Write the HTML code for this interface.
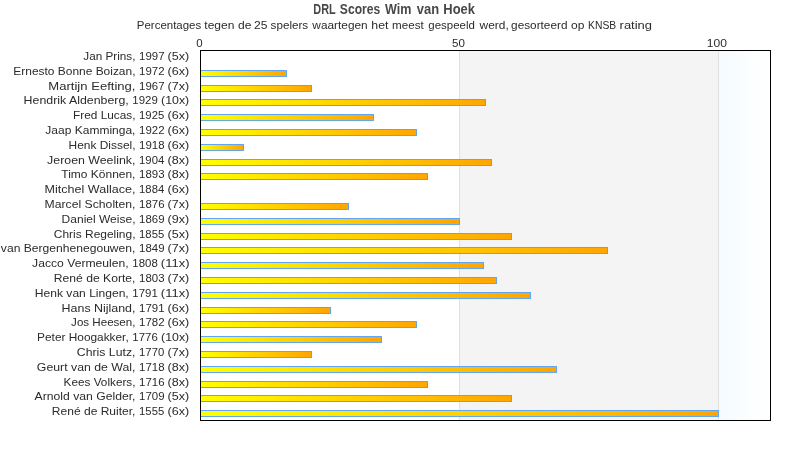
<!DOCTYPE html>
<html lang="nl"><head><meta charset="utf-8"><title>DRL Scores Wim van Hoek</title>
<style>
html,body{margin:0;padding:0;background:#fff;}
body{width:790px;height:450px;overflow:hidden;}
svg{display:block;font-family:"Liberation Sans",sans-serif;}
</style></head><body>
<svg width="790" height="450" viewBox="0 0 790 450">
<defs>
<linearGradient id="bar" x1="0" y1="0" x2="1" y2="0"><stop offset="0" stop-color="#ffff00"/><stop offset="1" stop-color="#ffa500"/></linearGradient>
<linearGradient id="band" x1="0" y1="0" x2="1" y2="0"><stop offset="0" stop-color="#f5fafe"/><stop offset="1" stop-color="#ffffff"/></linearGradient>
</defs>
<rect x="0" y="0" width="790" height="450" fill="#ffffff"/>
<g shape-rendering="crispEdges">
<rect x="459" y="51" width="259" height="369" fill="#f4f4f4"/>
<rect x="718" y="51" width="52" height="369" fill="url(#band)"/>
<rect x="459" y="51" width="1" height="369" fill="#e0e0e0"/>
<rect x="718" y="51" width="1" height="369" fill="#e0e0e0"/>
<rect x="200.5" y="70.5" width="86" height="6" fill="url(#bar)" stroke="#60a6f5" stroke-width="1"/>
<rect x="200.5" y="85.5" width="111" height="6" fill="url(#bar)" stroke="#60a6f5" stroke-width="1"/>
<rect x="200.5" y="99.5" width="285" height="6" fill="url(#bar)" stroke="#60a6f5" stroke-width="1"/>
<rect x="200.5" y="114.5" width="173" height="6" fill="url(#bar)" stroke="#60a6f5" stroke-width="1"/>
<rect x="200.5" y="129.5" width="216" height="6" fill="url(#bar)" stroke="#60a6f5" stroke-width="1"/>
<rect x="200.5" y="144.5" width="43" height="6" fill="url(#bar)" stroke="#60a6f5" stroke-width="1"/>
<rect x="200.5" y="159.5" width="291" height="6" fill="url(#bar)" stroke="#60a6f5" stroke-width="1"/>
<rect x="200.5" y="173.5" width="227" height="6" fill="url(#bar)" stroke="#60a6f5" stroke-width="1"/>
<rect x="200.5" y="203.5" width="148" height="6" fill="url(#bar)" stroke="#60a6f5" stroke-width="1"/>
<rect x="200.5" y="218.5" width="259" height="6" fill="url(#bar)" stroke="#60a6f5" stroke-width="1"/>
<rect x="200.5" y="233.5" width="311" height="6" fill="url(#bar)" stroke="#60a6f5" stroke-width="1"/>
<rect x="200.5" y="247.5" width="407" height="6" fill="url(#bar)" stroke="#60a6f5" stroke-width="1"/>
<rect x="200.5" y="262.5" width="283" height="6" fill="url(#bar)" stroke="#60a6f5" stroke-width="1"/>
<rect x="200.5" y="277.5" width="296" height="6" fill="url(#bar)" stroke="#60a6f5" stroke-width="1"/>
<rect x="200.5" y="292.5" width="330" height="6" fill="url(#bar)" stroke="#60a6f5" stroke-width="1"/>
<rect x="200.5" y="307.5" width="130" height="6" fill="url(#bar)" stroke="#60a6f5" stroke-width="1"/>
<rect x="200.5" y="321.5" width="216" height="6" fill="url(#bar)" stroke="#60a6f5" stroke-width="1"/>
<rect x="200.5" y="336.5" width="181" height="6" fill="url(#bar)" stroke="#60a6f5" stroke-width="1"/>
<rect x="200.5" y="351.5" width="111" height="6" fill="url(#bar)" stroke="#60a6f5" stroke-width="1"/>
<rect x="200.5" y="366.5" width="356" height="6" fill="url(#bar)" stroke="#60a6f5" stroke-width="1"/>
<rect x="200.5" y="381.5" width="227" height="6" fill="url(#bar)" stroke="#60a6f5" stroke-width="1"/>
<rect x="200.5" y="395.5" width="311" height="6" fill="url(#bar)" stroke="#60a6f5" stroke-width="1"/>
<rect x="200.5" y="410.5" width="518" height="6" fill="url(#bar)" stroke="#60a6f5" stroke-width="1"/>
<rect x="200.5" y="50.5" width="570" height="370" fill="none" stroke="#000000" stroke-width="1"/>
</g>
<g font-size="14.6px" font-weight="bold" fill="#484848">
<text x="313.35" y="13.7" textLength="22.36" lengthAdjust="spacingAndGlyphs">DRL</text>
<text x="339.85" y="13.7" textLength="40.36" lengthAdjust="spacingAndGlyphs">Scores</text>
<text x="385.10" y="13.7" textLength="26.36" lengthAdjust="spacingAndGlyphs">Wim</text>
<text x="416.85" y="13.7" textLength="22.36" lengthAdjust="spacingAndGlyphs">van</text>
<text x="443.35" y="13.7" textLength="31.62" lengthAdjust="spacingAndGlyphs">Hoek</text>
</g>
<g font-size="10.9px" fill="#2b2b2b">
<text x="136.85" y="28.7" textLength="64.37" lengthAdjust="spacingAndGlyphs">Percentages</text>
<text x="204.35" y="28.7" textLength="30.11" lengthAdjust="spacingAndGlyphs">tegen</text>
<text x="238.10" y="28.7" textLength="13.40" lengthAdjust="spacingAndGlyphs">de</text>
<text x="254.10" y="28.7" textLength="13.39" lengthAdjust="spacingAndGlyphs">25</text>
<text x="270.60" y="28.7" textLength="37.61" lengthAdjust="spacingAndGlyphs">spelers</text>
<text x="312.35" y="28.7" textLength="55.35" lengthAdjust="spacingAndGlyphs">waartegen</text>
<text x="371.35" y="28.7" textLength="17.11" lengthAdjust="spacingAndGlyphs">het</text>
<text x="392.10" y="28.7" textLength="31.61" lengthAdjust="spacingAndGlyphs">meest</text>
<text x="428.35" y="28.7" textLength="46.61" lengthAdjust="spacingAndGlyphs">gespeeld</text>
<text x="479.60" y="28.7" textLength="29.11" lengthAdjust="spacingAndGlyphs">werd,</text>
<text x="511.10" y="28.7" textLength="56.36" lengthAdjust="spacingAndGlyphs">gesorteerd</text>
<text x="571.10" y="28.7" textLength="13.38" lengthAdjust="spacingAndGlyphs">op</text>
<text x="588.10" y="28.7" textLength="28.13" lengthAdjust="spacingAndGlyphs">KNSB</text>
<text x="619.60" y="28.7" textLength="32.41" lengthAdjust="spacingAndGlyphs">rating</text>
</g>
<g font-size="10.9px" fill="#2b2b2b">
<text x="196.35" y="47.0" textLength="6.37" lengthAdjust="spacingAndGlyphs">0</text>
<text x="452.10" y="47.0" textLength="12.89" lengthAdjust="spacingAndGlyphs">50</text>
<text x="706.85" y="47.0" textLength="20.16" lengthAdjust="spacingAndGlyphs">100</text>
</g>
<g font-size="10.9px" fill="#2b2b2b">
<text x="83.35" y="60.0" textLength="52.12" lengthAdjust="spacingAndGlyphs">Jan Prins,</text> <text x="139.10" y="60.0" textLength="25.40" lengthAdjust="spacingAndGlyphs">1997</text> <text x="167.60" y="60.0" textLength="21.67" lengthAdjust="spacingAndGlyphs">(5x)</text>
<text x="13.35" y="74.8" textLength="122.13" lengthAdjust="spacingAndGlyphs">Ernesto Bonne Boizan,</text> <text x="139.10" y="74.8" textLength="25.40" lengthAdjust="spacingAndGlyphs">1972</text> <text x="167.60" y="74.8" textLength="21.67" lengthAdjust="spacingAndGlyphs">(6x)</text>
<text x="48.35" y="89.6" textLength="87.14" lengthAdjust="spacingAndGlyphs">Martijn Eefting,</text> <text x="139.10" y="89.6" textLength="25.40" lengthAdjust="spacingAndGlyphs">1967</text> <text x="167.60" y="89.6" textLength="21.67" lengthAdjust="spacingAndGlyphs">(7x)</text>
<text x="23.60" y="104.4" textLength="105.13" lengthAdjust="spacingAndGlyphs">Hendrik Aldenberg,</text> <text x="132.35" y="104.4" textLength="25.39" lengthAdjust="spacingAndGlyphs">1929</text> <text x="161.10" y="104.4" textLength="28.14" lengthAdjust="spacingAndGlyphs">(10x)</text>
<text x="73.10" y="119.2" textLength="62.40" lengthAdjust="spacingAndGlyphs">Fred Lucas,</text> <text x="139.10" y="119.2" textLength="25.13" lengthAdjust="spacingAndGlyphs">1925</text> <text x="167.60" y="119.2" textLength="21.67" lengthAdjust="spacingAndGlyphs">(6x)</text>
<text x="45.35" y="134.0" textLength="90.11" lengthAdjust="spacingAndGlyphs">Jaap Kamminga,</text> <text x="139.10" y="134.0" textLength="25.40" lengthAdjust="spacingAndGlyphs">1922</text> <text x="167.60" y="134.0" textLength="21.67" lengthAdjust="spacingAndGlyphs">(6x)</text>
<text x="68.60" y="148.8" textLength="66.89" lengthAdjust="spacingAndGlyphs">Henk Dissel,</text> <text x="139.10" y="148.8" textLength="25.39" lengthAdjust="spacingAndGlyphs">1918</text> <text x="167.60" y="148.8" textLength="21.67" lengthAdjust="spacingAndGlyphs">(6x)</text>
<text x="47.10" y="163.6" textLength="88.36" lengthAdjust="spacingAndGlyphs">Jeroen Weelink,</text> <text x="139.10" y="163.6" textLength="25.13" lengthAdjust="spacingAndGlyphs">1904</text> <text x="167.60" y="163.6" textLength="21.67" lengthAdjust="spacingAndGlyphs">(8x)</text>
<text x="61.35" y="178.4" textLength="74.11" lengthAdjust="spacingAndGlyphs">Timo Können,</text> <text x="139.10" y="178.4" textLength="25.39" lengthAdjust="spacingAndGlyphs">1893</text> <text x="167.60" y="178.4" textLength="21.67" lengthAdjust="spacingAndGlyphs">(8x)</text>
<text x="44.60" y="193.2" textLength="90.89" lengthAdjust="spacingAndGlyphs">Mitchel Wallace,</text> <text x="139.10" y="193.2" textLength="25.13" lengthAdjust="spacingAndGlyphs">1884</text> <text x="167.60" y="193.2" textLength="21.67" lengthAdjust="spacingAndGlyphs">(6x)</text>
<text x="44.60" y="208.0" textLength="90.89" lengthAdjust="spacingAndGlyphs">Marcel Scholten,</text> <text x="139.10" y="208.0" textLength="25.39" lengthAdjust="spacingAndGlyphs">1876</text> <text x="167.60" y="208.0" textLength="21.67" lengthAdjust="spacingAndGlyphs">(7x)</text>
<text x="61.60" y="222.8" textLength="73.89" lengthAdjust="spacingAndGlyphs">Daniel Weise,</text> <text x="139.10" y="222.8" textLength="25.39" lengthAdjust="spacingAndGlyphs">1869</text> <text x="167.60" y="222.8" textLength="21.67" lengthAdjust="spacingAndGlyphs">(9x)</text>
<text x="53.85" y="237.6" textLength="81.62" lengthAdjust="spacingAndGlyphs">Chris Regeling,</text> <text x="139.10" y="237.6" textLength="25.13" lengthAdjust="spacingAndGlyphs">1855</text> <text x="167.60" y="237.6" textLength="21.67" lengthAdjust="spacingAndGlyphs">(5x)</text>
<text x="0.85" y="252.4" textLength="134.60" lengthAdjust="spacingAndGlyphs">van Bergenhenegouwen,</text> <text x="139.10" y="252.4" textLength="25.39" lengthAdjust="spacingAndGlyphs">1849</text> <text x="167.60" y="252.4" textLength="21.67" lengthAdjust="spacingAndGlyphs">(7x)</text>
<text x="32.10" y="267.2" textLength="96.61" lengthAdjust="spacingAndGlyphs">Jacco Vermeulen,</text> <text x="132.35" y="267.2" textLength="25.39" lengthAdjust="spacingAndGlyphs">1808</text> <text x="160.85" y="267.2" textLength="28.67" lengthAdjust="spacingAndGlyphs">(11x)</text>
<text x="53.85" y="282.0" textLength="81.64" lengthAdjust="spacingAndGlyphs">René de Korte,</text> <text x="139.10" y="282.0" textLength="25.39" lengthAdjust="spacingAndGlyphs">1803</text> <text x="167.60" y="282.0" textLength="21.67" lengthAdjust="spacingAndGlyphs">(7x)</text>
<text x="34.85" y="296.8" textLength="93.88" lengthAdjust="spacingAndGlyphs">Henk van Lingen,</text> <text x="132.35" y="296.8" textLength="25.39" lengthAdjust="spacingAndGlyphs">1791</text> <text x="160.85" y="296.8" textLength="28.67" lengthAdjust="spacingAndGlyphs">(11x)</text>
<text x="61.60" y="311.6" textLength="73.89" lengthAdjust="spacingAndGlyphs">Hans Nijland,</text> <text x="139.10" y="311.6" textLength="25.39" lengthAdjust="spacingAndGlyphs">1791</text> <text x="167.60" y="311.6" textLength="21.67" lengthAdjust="spacingAndGlyphs">(6x)</text>
<text x="71.10" y="326.4" textLength="64.37" lengthAdjust="spacingAndGlyphs">Jos Heesen,</text> <text x="139.10" y="326.4" textLength="25.40" lengthAdjust="spacingAndGlyphs">1782</text> <text x="167.60" y="326.4" textLength="21.67" lengthAdjust="spacingAndGlyphs">(6x)</text>
<text x="37.10" y="341.2" textLength="91.63" lengthAdjust="spacingAndGlyphs">Peter Hoogakker,</text> <text x="132.35" y="341.2" textLength="25.39" lengthAdjust="spacingAndGlyphs">1776</text> <text x="161.10" y="341.2" textLength="28.14" lengthAdjust="spacingAndGlyphs">(10x)</text>
<text x="76.85" y="356.0" textLength="58.63" lengthAdjust="spacingAndGlyphs">Chris Lutz,</text> <text x="139.10" y="356.0" textLength="25.13" lengthAdjust="spacingAndGlyphs">1770</text> <text x="167.60" y="356.0" textLength="21.67" lengthAdjust="spacingAndGlyphs">(7x)</text>
<text x="36.85" y="370.8" textLength="98.62" lengthAdjust="spacingAndGlyphs">Geurt van de Wal,</text> <text x="139.10" y="370.8" textLength="25.39" lengthAdjust="spacingAndGlyphs">1718</text> <text x="167.60" y="370.8" textLength="21.67" lengthAdjust="spacingAndGlyphs">(8x)</text>
<text x="63.60" y="385.6" textLength="71.89" lengthAdjust="spacingAndGlyphs">Kees Volkers,</text> <text x="139.10" y="385.6" textLength="25.39" lengthAdjust="spacingAndGlyphs">1716</text> <text x="167.60" y="385.6" textLength="21.67" lengthAdjust="spacingAndGlyphs">(8x)</text>
<text x="34.60" y="400.4" textLength="100.86" lengthAdjust="spacingAndGlyphs">Arnold van Gelder,</text> <text x="139.10" y="400.4" textLength="25.39" lengthAdjust="spacingAndGlyphs">1709</text> <text x="167.60" y="400.4" textLength="21.67" lengthAdjust="spacingAndGlyphs">(5x)</text>
<text x="51.85" y="415.2" textLength="83.63" lengthAdjust="spacingAndGlyphs">René de Ruiter,</text> <text x="139.10" y="415.2" textLength="25.13" lengthAdjust="spacingAndGlyphs">1555</text> <text x="167.60" y="415.2" textLength="21.67" lengthAdjust="spacingAndGlyphs">(6x)</text>
</g>
</svg>
</body></html>
